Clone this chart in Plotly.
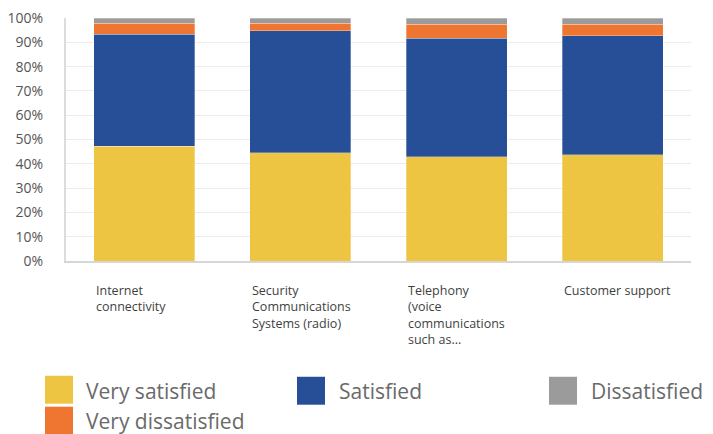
import plotly.graph_objects as go

categories = ["Internet<br>connectivity",
              "Security<br>Communications<br>Systems (radio)",
              "Telephony<br>(voice<br>communications<br>such as...",
              "Customer support"]
very_satisfied = [47.2, 44.6, 43.0, 43.7]
satisfied = [46.1, 50.1, 48.7, 49.1]
very_dissatisfied = [4.6, 3.2, 5.8, 4.7]
dissatisfied = [2.1, 2.1, 2.5, 2.5]
y_ticks = [0, 10, 20, 30, 40, 50, 60, 70, 80, 90, 100]
y_tick_labels = [f"{t}%" for t in y_ticks]

series = [
    ("Very satisfied", very_satisfied, "#EEC443"),
    ("Satisfied", satisfied, "#264F97"),
    ("Very dissatisfied", very_dissatisfied, "#EE7631"),
    ("Dissatisfied", dissatisfied, "#9B9B9B"),
]

W, H = 713, 434
L, R, T, B = 66, 22, 17.5, 173
pw, ph = W - L - R, H - T - B

def px2x(px):
    return (px - L) / pw

def px2y(py):
    return (H - B - py) / ph

x_idx = list(range(len(categories)))
bar_w = 0.646

fig = go.Figure()
for name, vals, col in series:
    fig.add_trace(go.Bar(x=x_idx, y=vals, name=name, width=bar_w,
                         marker=dict(color=col, line=dict(color="rgba(255,255,255,0.5)", width=0.6)),
                         showlegend=False))

annotations = []
for i, c in enumerate(categories):
    annotations.append(dict(x=i - bar_w / 2, y=px2y(280), xref="x", yref="paper",
                            text=c, showarrow=False, xanchor="left", yanchor="top",
                            align="left", font=dict(family="Open Sans", size=12.5, color="#3f3f3f")))

# manual legend (large swatches)
legend_items = [
    ("Very satisfied", "#EEC443", 45, 376, 84, 391),
    ("Satisfied", "#264F97", 297, 377, 337, 391),
    ("Dissatisfied", "#9B9B9B", 549, 377, 589, 391),
    ("Very dissatisfied", "#EE7631", 45, 407, 84, 421),
]
shapes = []
for name, col, sx, sy, tx, ty in legend_items:
    x0, x1 = px2x(sx), px2x(sx + 28)
    y0, y1 = px2y(sy + 28), px2y(sy)
    shapes.append(dict(type="rect", xref="paper", yref="paper", x0=x0, x1=x1, y0=y0, y1=y1,
                       fillcolor=col, line=dict(width=0), layer="above"))
    annotations.append(dict(x=px2x(tx), y=px2y(ty), xref="paper", yref="paper", text=name,
                            showarrow=False, xanchor="left", yanchor="middle",
                            font=dict(family="Open Sans", size=21, color="#6a6a6a")))

fig.update_layout(
    width=W, height=H,
    margin=dict(l=L, r=R, t=T, b=B, pad=0, autoexpand=False),
    barmode="stack",
    plot_bgcolor="white", paper_bgcolor="white",
    showlegend=False,
    xaxis=dict(range=[-0.5, 3.5], showticklabels=False, showgrid=False, automargin=False,
               showline=True, linecolor="#d6d6d6", linewidth=2, zeroline=False, fixedrange=True),
    yaxis=dict(range=[0, 100], tickvals=y_ticks, ticktext=y_tick_labels, automargin=False,
               showgrid=True, gridcolor="#ececec", gridwidth=1,
               showline=True, linecolor="#dcdcdc", linewidth=2, zeroline=False,
               ticklabelstandoff=18,
               tickfont=dict(family="Open Sans", size=14, color="#555555")),
    annotations=annotations,
    shapes=shapes,
)

fig.write_html("out.html")
